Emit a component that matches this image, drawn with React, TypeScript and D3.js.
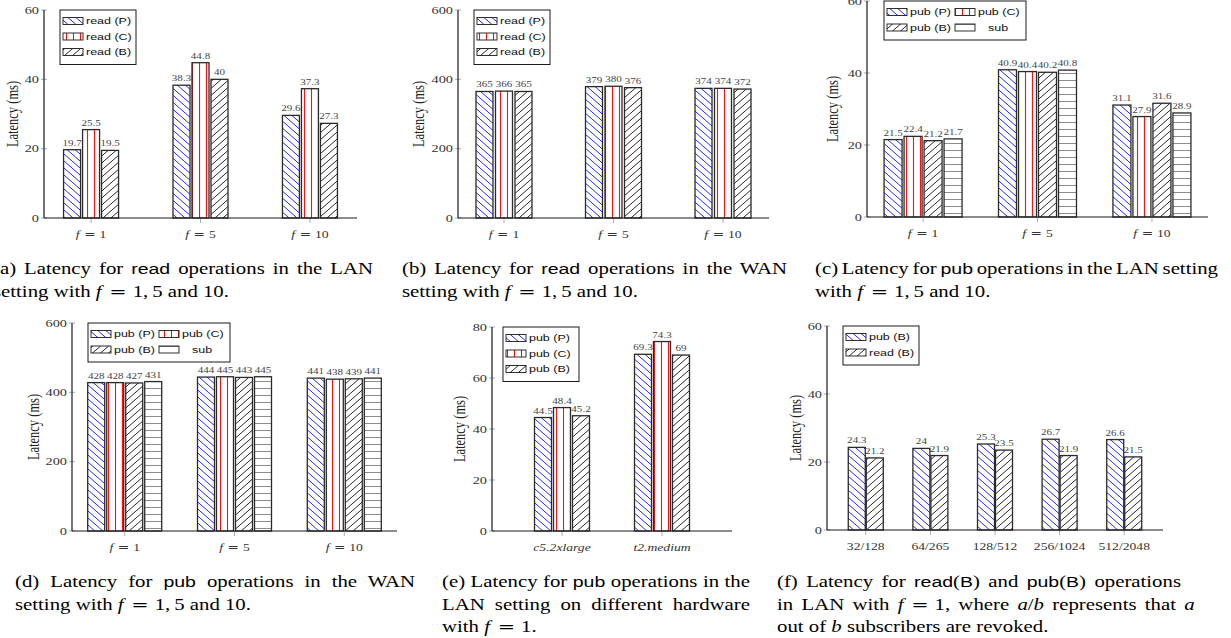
import React, { useLayoutEffect, useRef, useState } from "react";
import * as d3 from "d3";

// horizontal stretch of the reference rendering
const SX = 1.3;
const SERIF = "'Liberation Serif', 'Times New Roman', serif";
const SANS = "'Liberation Sans', Arial, sans-serif";
const EQF = "'DejaVu Serif', serif";

// ---------------- data ----------------
const fCats = ["1", "5", "10"];
const hwCats = ["c5.2xlarge", "t2.medium"];
const revCats = ["32/128", "64/265", "128/512", "256/1024", "512/2048"];

const readLanP = [19.7, 38.3, 29.6];
const readLanC = [25.5, 44.8, 37.3];
const readLanB = [19.5, 40, 27.3];

const readWanP = [365, 379, 374];
const readWanC = [366, 380, 374];
const readWanB = [365, 376, 372];

const pubLanP = [21.5, 40.9, 31.1];
const pubLanC = [22.4, 40.4, 27.9];
const pubLanB = [21.2, 40.2, 31.6];
const pubLanSub = [21.7, 40.8, 28.9];

const pubWanP = [428, 444, 441];
const pubWanC = [428, 445, 438];
const pubWanB = [427, 443, 439];
const pubWanSub = [431, 445, 441];

const hwPubP = [44.5, 69.3];
const hwPubC = [48.4, 74.3];
const hwPubB = [45.2, 69];

const revPubB = [24.3, 24, 25.3, 26.7, 26.6];
const revReadB = [21.2, 21.9, 23.5, 21.9, 21.5];

const ticks60 = [0, 20, 40, 60];
const ticks600 = [0, 200, 400, 600];
const ticks80 = [0, 20, 40, 60, 80];

// ---------------- types ----------------
type Series = { label: string; values: number[]; pat: string; legendDx?: number };
type Layout = {
  x0: number; x1: number; yTop: number; yBottom: number; pad: number;
  step: number; barW: number; ylabX: number;
  legend: { x: number; y: number; cols: number };
};
type Seg = [string, "r" | "s" | "i" | "e", number?];
type CapLineDef = { w?: number; segs: Seg[] };
type CaptionDef = { x: number; y: number; lines: CapLineDef[] };

function Stretch({ x, y, children, ...rest }: any) {
  return (
    <text transform={`translate(${x},${y}) scale(${SX},1)`} {...rest}>
      {children}
    </text>
  );
}

function catLabel(kind: string, c: string) {
  if (kind === "f")
    return (
      <>
        <tspan fontStyle="italic">f</tspan>
        <tspan fontFamily={EQF} dx={3.5}>=</tspan>
        <tspan dx={3}>{c}</tspan>
      </>
    );
  if (kind === "italic") return <tspan fontStyle="italic">{c}</tspan>;
  return c;
}

function Panel({ cats, catKind, series, yMax, yTicks, L }: {
  cats: string[]; catKind: string; series: Series[]; yMax: number; yTicks: number[]; L: Layout;
}) {
  const x = d3.scalePoint<string>().domain(cats).range([L.x0, L.x1]).padding(L.pad);
  const y = d3.scaleLinear().domain([0, yMax]).range([L.yBottom, L.yTop]);
  const n = series.length;
  const inner = d3
    .scaleBand<string>()
    .domain(series.map((s) => s.label))
    .range([(-n * L.step) / 2, (n * L.step) / 2]);
  const off = (L.step - L.barW) / 2;
  const cols = L.legend.cols;
  const rows = Math.ceil(n / cols);
  const boxW = cols === 1 ? 76 : 142;
  const boxH = 8 + 15.5 * rows;
  return (
    <g>
      {/* y ticks */}
      {yTicks.map((t) => (
        <g key={"yt" + t}>
          <line x1={L.x0 - 3} x2={L.x0 + 3} y1={y(t)} y2={y(t)} stroke="#999" strokeWidth={0.8} />
          <Stretch x={L.x0 - 5} y={y(t) + 3.8} textAnchor="end" fontSize={11} fill="#333" fontFamily={SERIF}>
            {t}
          </Stretch>
        </g>
      ))}
      {/* x ticks */}
      {cats.map((c) => (
        <g key={"xt" + c}>
          <line x1={x(c)!} x2={x(c)!} y1={L.yBottom} y2={L.yBottom + 5} stroke="#999" strokeWidth={0.8} />
          <Stretch x={x(c)!} y={L.yBottom + 19.5} textAnchor="middle" fontSize={10.5} fill="#333" fontFamily={SERIF}>
            {catLabel(catKind, c)}
          </Stretch>
        </g>
      ))}
      {/* bars */}
      {series.map((s) =>
        s.values.map((v, i) => {
          const bx = x(cats[i])! + inner(s.label)! + off;
          return (
            <g key={s.label + i}>
              <rect
                x={bx}
                y={y(v)}
                width={L.barW}
                height={L.yBottom - y(v)}
                fill={`url(#${s.pat})`}
                stroke="#2a2a2a"
                strokeWidth={1.3}
              />
              <Stretch x={bx + L.barW / 2} y={y(v) - 4} textAnchor="middle" fontSize={8.5} fill="#444" fontFamily={SERIF}>
                {String(v)}
              </Stretch>
            </g>
          );
        })
      )}
      {/* axes */}
      <line x1={L.x0} x2={L.x0} y1={L.yTop} y2={L.yBottom} stroke="#1a1a1a" strokeWidth={1.2} />
      <line x1={L.x0} x2={L.x1} y1={L.yBottom} y2={L.yBottom} stroke="#1a1a1a" strokeWidth={1.2} />
      {/* y label */}
      <text
        transform={`translate(${L.ylabX},${(L.yTop + L.yBottom) / 2}) scale(${SX},1) rotate(-90)`}
        textAnchor="middle"
        dominantBaseline="central"
        fontSize={12.5}
        fill="#222"
        fontFamily={SERIF}
      >
        Latency (ms)
      </text>
      {/* legend */}
      <rect x={L.legend.x} y={L.legend.y} width={boxW} height={boxH} fill="white" stroke="#1a1a1a" strokeWidth={1} />
      {series.map((s, i) => {
        const col = i % cols;
        const row = Math.floor(i / cols);
        const sx = L.legend.x + 3 + col * 68;
        const cy = L.legend.y + 11 + row * 15.5;
        return (
          <g key={"lg" + s.label}>
            <rect x={sx} y={cy - 3.5} width={20} height={7} fill={`url(#${s.pat})`} stroke="#1a1a1a" strokeWidth={0.9} />
            <Stretch x={sx + 23 + (s.legendDx || 0)} y={cy + 3.4} fontSize={9.6} fill="#111" fontFamily={SANS}>
              {s.label}
            </Stretch>
          </g>
        );
      })}
    </g>
  );
}

function CapLine({ x, y, w, segs }: { x: number; y: number; w?: number; segs: Seg[] }) {
  const ref = useRef<SVGTextElement>(null);
  const [ws, setWs] = useState(0);
  useLayoutEffect(() => {
    if (!w || !ref.current) return;
    const el = ref.current;
    el.style.wordSpacing = "0px";
    const len = el.getComputedTextLength();
    const nSp = ((el.textContent || "").match(/ /g) || []).length;
    if (nSp > 0) setWs((w / SX - len) / nSp);
  }, [w]);
  return (
    <text
      ref={ref}
      transform={`translate(${x},${y}) scale(${SX},1)`}
      fontSize={16}
      fontFamily={SERIF}
      fill="#000"
      style={{ wordSpacing: `${ws}px` }}
    >
      {segs.map(([t, k, dx], i) =>
        k === "s" ? (
          <tspan key={i} dx={dx} fontFamily={SANS} fontSize={15}>{t}</tspan>
        ) : k === "i" ? (
          <tspan key={i} dx={dx} fontStyle="italic">{t}</tspan>
        ) : k === "e" ? (
          <tspan key={i} dx={dx} fontFamily={EQF}>{t}</tspan>
        ) : (
          <tspan key={i} dx={dx}>{t}</tspan>
        )
      )}
    </text>
  );
}

function Caption({ c }: { c: CaptionDef }) {
  return (
    <g>
      {c.lines.map((l, i) => (
        <CapLine key={i} x={c.x} y={c.y + i * 22.5} w={l.w} segs={l.segs} />
      ))}
    </g>
  );
}

const fMath: Seg[] = [["f", "i"], ["=", "e", 6], ["1,", "r", 4.5], ["5", "r", 3], [" and 10.", "r"]];
const fLine2: Seg[] = [["setting with ", "r"], ...fMath];

const captions: CaptionDef[] = [
  { x: -7, y: 274, lines: [
    { w: 380, segs: [["(a) Latency for ", "r"], ["read", "s"], [" operations in the LAN", "r"]] },
    { segs: fLine2 } ] },
  { x: 402, y: 274, lines: [
    { w: 385, segs: [["(b) Latency for ", "r"], ["read", "s"], [" operations in the WAN", "r"]] },
    { segs: fLine2 } ] },
  { x: 815, y: 274, lines: [
    { w: 403, segs: [["(c) Latency for ", "r"], ["pub", "s"], [" operations in the LAN setting", "r"]] },
    { segs: [["with ", "r"], ...fMath] } ] },
  { x: 15, y: 587, lines: [
    { w: 400, segs: [["(d) Latency for ", "r"], ["pub", "s"], [" operations in the WAN", "r"]] },
    { segs: fLine2 } ] },
  { x: 442, y: 587, lines: [
    { w: 308, segs: [["(e) Latency for ", "r"], ["pub", "s"], [" operations in the", "r"]] },
    { w: 308, segs: [["LAN setting on different hardware", "r"]] },
    { segs: [["with ", "r"], ["f", "i"], ["=", "e", 6], ["1.", "r", 4.5]] } ] },
  { x: 777, y: 587, lines: [
    { w: 404, segs: [["(f) Latency for ", "r"], ["read", "s"], ["(", "r"], ["B", "s"], [") and ", "r"], ["pub", "s"], ["(", "r"], ["B", "s"], [") operations", "r"]] },
    { w: 404, segs: [["in LAN with ", "r"], ["f", "i"], ["=", "e", 6], ["1, where ", "r", 4.5], ["a", "i"], ["/", "r"], ["b", "i"], [" represents that ", "r"], ["a", "i"]] },
    { segs: [["out of ", "r"], ["b", "i"], [" subscribers are revoked.", "r"]] } ] },
];

// ---------------- layouts ----------------
const LA: Layout = { x0: 44, x1: 357, yTop: 10, yBottom: 218, pad: 0.43, step: 19, barW: 17, ylabX: 12, legend: { x: 60, y: 10, cols: 1 } };
const LB: Layout = { x0: 458, x1: 769, yTop: 10, yBottom: 218, pad: 0.42, step: 19.5, barW: 17, ylabX: 418, legend: { x: 474, y: 10, cols: 1 } };
const LC: Layout = { x0: 867, x1: 1208, yTop: 1, yBottom: 217, pad: 0.49, step: 20, barW: 18, ylabX: 832, legend: { x: 884, y: 1, cols: 2 } };
const LD: Layout = { x0: 72, x1: 397, yTop: 323, yBottom: 531, pad: 0.48, step: 19, barW: 17, ylabX: 33, legend: { x: 88, y: 323, cols: 2 } };
const LE: Layout = { x0: 492, x1: 732, yTop: 327, yBottom: 531, pad: 0.7, step: 19, barW: 17, ylabX: 459, legend: { x: 503, y: 327, cols: 1 } };
const LF: Layout = { x0: 827, x1: 1163, yTop: 326, yBottom: 530, pad: 0.6, step: 18, barW: 17, ylabX: 795, legend: { x: 843, y: 326, cols: 1 } };

function Patterns() {
  const w = 8, h = 7;
  return (
    <defs>
      <pattern id="pP" patternUnits="userSpaceOnUse" width={w} height={h}>
        <rect width={w} height={h} fill="white" />
        <path d={`M${-w},${-h}L${2 * w},${2 * h}M${-w},0L${w},${2 * h}M0,${-h}L${2 * w},${h}`} stroke="#1010ff" strokeWidth={0.9} />
      </pattern>
      <pattern id="pB" patternUnits="userSpaceOnUse" width={w} height={h}>
        <rect width={w} height={h} fill="white" />
        <path d={`M${-w},${2 * h}L${2 * w},${-h}M${-w},${h}L${w},${-h}M0,${2 * h}L${2 * w},0`} stroke="#111" strokeWidth={0.9} />
      </pattern>
      <pattern id="pC" patternUnits="userSpaceOnUse" width={7} height={7}>
        <rect width={7} height={7} fill="white" />
        <line x1={3.5} x2={3.5} y1={0} y2={7} stroke="#ff1010" strokeWidth={1.1} />
      </pattern>
      <pattern id="pS" patternUnits="userSpaceOnUse" width={7} height={7}>
        <rect width={7} height={7} fill="white" />
        <line x1={0} x2={7} y1={3.5} y2={3.5} stroke="#808080" strokeWidth={0.9} />
      </pattern>
    </defs>
  );
}

export default function App() {
  return (
    <svg
      width={1231}
      height={638}
      style={{ position: "absolute", left: 0, top: 0, background: "white" }}
      fontFamily={SERIF}
    >
      <Patterns />
      <Panel cats={fCats} catKind="f" yMax={60} yTicks={ticks60} L={LA}
        series={[
          { label: "read (P)", values: readLanP, pat: "pP" },
          { label: "read (C)", values: readLanC, pat: "pC" },
          { label: "read (B)", values: readLanB, pat: "pB" },
        ]} />
      <Panel cats={fCats} catKind="f" yMax={600} yTicks={ticks600} L={LB}
        series={[
          { label: "read (P)", values: readWanP, pat: "pP" },
          { label: "read (C)", values: readWanC, pat: "pC" },
          { label: "read (B)", values: readWanB, pat: "pB" },
        ]} />
      <Panel cats={fCats} catKind="f" yMax={60} yTicks={ticks60} L={LC}
        series={[
          { label: "pub (P)", values: pubLanP, pat: "pP" },
          { label: "pub (C)", values: pubLanC, pat: "pC" },
          { label: "pub (B)", values: pubLanB, pat: "pB" },
          { label: "sub", values: pubLanSub, pat: "pS", legendDx: 10 },
        ]} />
      <Panel cats={fCats} catKind="f" yMax={600} yTicks={ticks600} L={LD}
        series={[
          { label: "pub (P)", values: pubWanP, pat: "pP" },
          { label: "pub (C)", values: pubWanC, pat: "pC" },
          { label: "pub (B)", values: pubWanB, pat: "pB" },
          { label: "sub", values: pubWanSub, pat: "pS", legendDx: 10 },
        ]} />
      <Panel cats={hwCats} catKind="italic" yMax={80} yTicks={ticks80} L={LE}
        series={[
          { label: "pub (P)", values: hwPubP, pat: "pP" },
          { label: "pub (C)", values: hwPubC, pat: "pC" },
          { label: "pub (B)", values: hwPubB, pat: "pB" },
        ]} />
      <Panel cats={revCats} catKind="plain" yMax={60} yTicks={ticks60} L={LF}
        series={[
          { label: "pub (B)", values: revPubB, pat: "pP" },
          { label: "read (B)", values: revReadB, pat: "pB" },
        ]} />
      {captions.map((c, i) => (
        <Caption key={i} c={c} />
      ))}
    </svg>
  );
}
